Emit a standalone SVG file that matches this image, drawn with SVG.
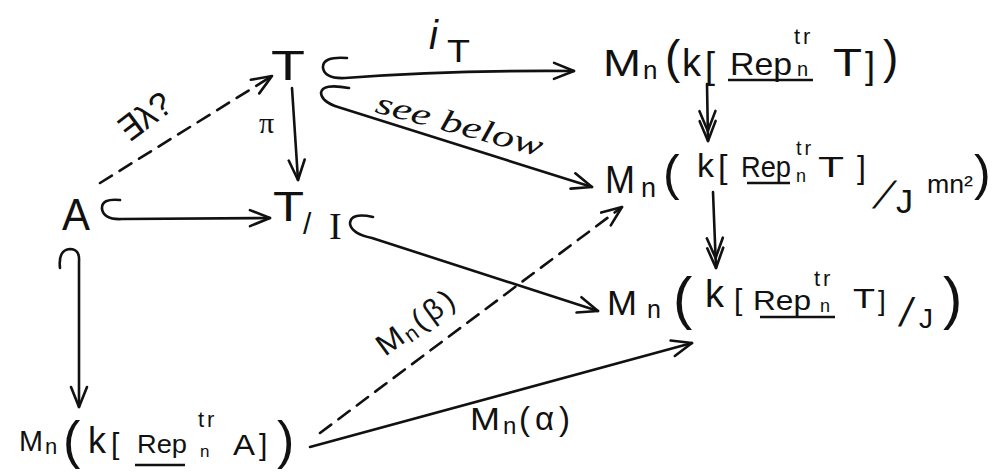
<svg xmlns="http://www.w3.org/2000/svg" width="999" height="472" viewBox="0 0 999 472">
<style>
.t{font-family:"Liberation Sans","DejaVu Sans",sans-serif;fill:#111}
.s{font-family:"Liberation Serif","DejaVu Serif",serif;fill:#111}
.e{fill:none;stroke:#111;stroke-width:2.6;stroke-linecap:round;stroke-linejoin:round}
.d{stroke-dasharray:14 9}
.u{stroke:#111;stroke-width:2.4}
.sp{letter-spacing:3px}
</style>
<defs>
<marker id="ah" viewBox="0 0 24 20" refX="22" refY="10" markerWidth="24" markerHeight="20" markerUnits="userSpaceOnUse" orient="auto">
<path d="M2,2 L22,10 L2,18" fill="none" stroke="#111" stroke-width="2.6" stroke-linecap="round" stroke-linejoin="round"/>
</marker>
<marker id="ah2" viewBox="0 0 34 20" refX="32" refY="10" markerWidth="34" markerHeight="20" markerUnits="userSpaceOnUse" orient="auto">
<path d="M12,2 L32,10 L12,18 M2,2 L22,10 L2,18" fill="none" stroke="#111" stroke-width="2.6" stroke-linecap="round" stroke-linejoin="round"/>
</marker>
</defs>
<rect width="999" height="472" fill="#fff"/>

<g id="connectors">
<path class="e" d="M347,58 Q322,56 323,68 Q325,79 345,78 Q450,70 574,71" marker-end="url(#ah)"/>
<path class="e" d="M349,88 Q322,83 321,93 Q322,102 338,107 L592,187" marker-end="url(#ah)"/>
<path class="e" d="M292,88 L298,180" marker-end="url(#ah)"/>
<path class="e d" d="M100,183 L272,76" marker-end="url(#ah)"/>
<path class="e" d="M120,200 Q101,198 102,209 Q104,220 122,219 L270,218" marker-end="url(#ah)"/>
<path class="e" d="M373,217 Q350,212 350,224 Q352,234 372,238 L598,311" marker-end="url(#ah)"/>
<path class="e" d="M60,268 Q58,250 70,249 Q80,249 79,262 L79,407" marker-end="url(#ah)"/>
<path class="e" d="M707,84 L708,141" marker-end="url(#ah2)"/>
<path class="e" d="M713,192 L716,268" marker-end="url(#ah2)"/>
<path class="e d" d="M320,433 L622,207" marker-end="url(#ah)"/>
<path class="e" d="M310,447 L692,343" marker-end="url(#ah)"/>
</g>

<g id="labels">
<text class="t" x="429" y="49" font-size="40" font-style="italic">i</text>
<text class="t" x="447" y="62" font-size="32" textLength="23" lengthAdjust="spacingAndGlyphs">T</text>
<text class="s" x="259" y="133" font-size="30">π</text>
<text class="t" transform="translate(152,126) rotate(-37)" text-anchor="middle" font-size="34">∃λ?</text>
<text class="s" transform="translate(374,112) rotate(15)" font-size="31" font-style="italic" textLength="172" lengthAdjust="spacingAndGlyphs">see below</text>
<g transform="translate(385,357) rotate(-36)">
<text class="t" x="0" y="0" font-size="30" textLength="27" lengthAdjust="spacingAndGlyphs">M</text>
<text class="t" x="29" y="4" font-size="22">n</text>
<text class="t" x="44" y="0" font-size="30" letter-spacing="4">(β)</text>
</g>
<text class="t" x="470" y="430" font-size="32" textLength="30" lengthAdjust="spacingAndGlyphs">M</text>
<text class="t" x="503" y="434" font-size="24">n</text>
<text class="t" x="519" y="430" font-size="33" letter-spacing="5">(α)</text>
</g>

<g id="node-T">
<text class="t" x="271" y="80" font-size="42" textLength="34" lengthAdjust="spacingAndGlyphs">T</text>
</g>

<g id="node-A">
<text class="t" x="62" y="230" font-size="45" textLength="28" lengthAdjust="spacingAndGlyphs">A</text>
</g>

<g id="node-TI">
<text class="t" x="273" y="221" font-size="42" textLength="31" lengthAdjust="spacingAndGlyphs">T</text>
<text class="t" x="303" y="234" font-size="30">/</text>
<text class="s" x="329" y="239" font-size="38">I</text>
</g>

<g id="node-MnT">
<text class="t" x="603" y="76" font-size="36" textLength="38" lengthAdjust="spacingAndGlyphs">M</text>
<text class="t" x="643" y="79" font-size="26">n</text>
<text class="t" x="665" y="73" font-size="46">(</text>
<text class="t" x="682" y="76" font-size="38">k</text>
<text class="t" x="705" y="78" font-size="36">[</text>
<text class="t" x="730" y="75" font-size="32" textLength="62" lengthAdjust="spacingAndGlyphs">Rep</text>
<line class="u" x1="728" y1="80" x2="813" y2="80"/>
<text class="t sp" x="794" y="44" font-size="22">tr</text>
<text class="t" x="797" y="76" font-size="20">n</text>
<text class="t" x="833" y="76" font-size="38" textLength="29" lengthAdjust="spacingAndGlyphs">T</text>
<text class="t" x="865" y="78" font-size="36">]</text>
<text class="t" x="883" y="73" font-size="46">)</text>
</g>

<g id="node-MnTJmn">
<text class="t" x="605" y="193" font-size="38" textLength="30" lengthAdjust="spacingAndGlyphs">M</text>
<text class="t" x="641" y="197" font-size="27">n</text>
<text class="t" x="663" y="190" font-size="50">(</text>
<text class="t" x="697" y="177" font-size="34">k</text>
<text class="t" x="718" y="178" font-size="34">[</text>
<text class="t" x="741" y="177" font-size="30" textLength="50" lengthAdjust="spacingAndGlyphs">Rep</text>
<line class="u" x1="747" y1="183" x2="790" y2="183"/>
<text class="t sp" x="796" y="155" font-size="20">tr</text>
<text class="t" x="796" y="182" font-size="18">n</text>
<text class="t" x="818" y="177" font-size="30" textLength="26" lengthAdjust="spacingAndGlyphs">T</text>
<text class="t" x="857" y="178" font-size="32">]</text>
<text class="t" transform="translate(872,208) skewX(-28)" font-size="38">/</text>
<text class="t" x="896" y="213" font-size="34">J</text>
<text class="t" x="927" y="193" font-size="26" textLength="46" lengthAdjust="spacingAndGlyphs">mn²</text>
<text class="t" x="974" y="190" font-size="50">)</text>
</g>

<g id="node-MnTJ">
<text class="t" x="607" y="315" font-size="35" textLength="30" lengthAdjust="spacingAndGlyphs">M</text>
<text class="t" x="647" y="318" font-size="25">n</text>
<text class="t" x="673" y="318" font-size="58">(</text>
<text class="t" x="705" y="307" font-size="38">k</text>
<text class="t" x="734" y="310" font-size="30">[</text>
<text class="t" x="753" y="310" font-size="28" textLength="58" lengthAdjust="spacingAndGlyphs">Rep</text>
<line class="u" x1="760" y1="317" x2="835" y2="317"/>
<text class="t sp" x="814" y="286" font-size="22">tr</text>
<text class="t" x="820" y="312" font-size="18">n</text>
<text class="t" x="853" y="308" font-size="28" textLength="22" lengthAdjust="spacingAndGlyphs">T</text>
<text class="t" x="878" y="310" font-size="28">]</text>
<text class="t" transform="translate(898,326) skewX(-12)" font-size="40">/</text>
<text class="t" x="919" y="328" font-size="28">J</text>
<text class="t" x="943" y="318" font-size="58">)</text>
</g>

<g id="node-MnA">
<text class="t" x="19" y="451" font-size="30" textLength="24" lengthAdjust="spacingAndGlyphs">M</text>
<text class="t" x="45" y="454" font-size="22">n</text>
<text class="t" x="63" y="458" font-size="52">(</text>
<text class="t" x="88" y="453" font-size="36">k</text>
<text class="t" x="111" y="454" font-size="30">[</text>
<text class="t" x="137" y="453" font-size="26" textLength="50" lengthAdjust="spacingAndGlyphs">Rep</text>
<line class="u" x1="135" y1="465" x2="185" y2="465"/>
<text class="t sp" x="198" y="427" font-size="22">tr</text>
<text class="t" x="200" y="457" font-size="17">n</text>
<text class="t" x="233" y="455" font-size="30" textLength="22" lengthAdjust="spacingAndGlyphs">A</text>
<text class="t" x="259" y="455" font-size="30">]</text>
<text class="t" x="277" y="458" font-size="52">)</text>
</g>
</svg>
